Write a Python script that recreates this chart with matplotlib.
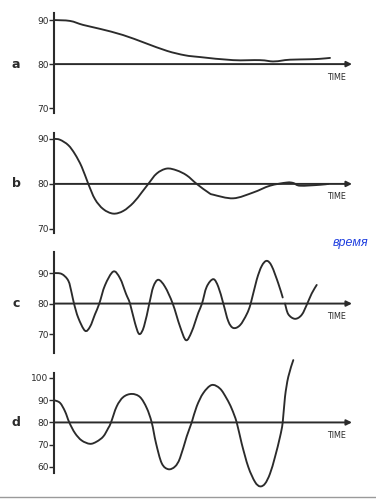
import numpy as np
import matplotlib
matplotlib.use("Agg")
import matplotlib.pyplot as plt
from matplotlib.lines import Line2D
from matplotlib.path import Path
from matplotlib.patches import PathPatch

# ---------------- data (time in arbitrary units, value in degrees) ----------------
panel_labels = ["a", "b", "c", "d"]
axis_label = "TIME"
note_text = "время"

t_a = [0, 16, 29, 46, 69, 91, 113, 131, 146, 179, 206, 219, 228, 236, 256, 266, 276]
v_a = [90, 89.8, 88.9, 88, 86.6, 84.8, 83, 82, 81.6, 80.9, 80.9, 80.6, 80.8, 81, 81.1, 81.2, 81.4]

t_b = [0, 6, 14.3, 21, 27.7, 34.3, 41, 49.3, 59.3, 69.3, 79.3, 87.7, 94.3, 102.7, 112.7,
       122.7, 132.7, 142.7, 154.3, 159.3, 179.3, 199.3, 216, 232.7, 239.3, 246, 266, 274.3]
v_b = [90, 89.8, 88.6, 86.6, 83.8, 80, 76.6, 74.4, 73.4, 74, 75.8, 78.1, 80, 82.3, 83.4,
       83, 81.9, 80, 78.1, 77.6, 76.8, 78.1, 79.6, 80.3, 80.2, 79.6, 79.8, 80]

t_c = [0, 7.7, 14.3, 17.7, 20, 24.3, 31, 36, 41, 45.3, 51, 59.3, 66, 72, 76, 81, 85.3, 90,
       95.3, 99.3, 104.3, 111, 118.7, 126, 132, 137.7, 144.3, 148, 152.7, 159.3, 164.3,
       169.3, 174.3, 179.3, 186, 192.7, 196.7, 202.7, 207.7, 212.7, 217.7, 224.3, 228.7,
       229.8, 231, 234.3, 241, 247.7, 253.3, 257.7, 262.7]
v_c = [90, 89.7, 87.5, 83.4, 80, 75.3, 71.1, 72.4, 76.5, 80, 86, 90.5, 88.3, 83.2, 80, 73.6,
       70, 72.5, 80, 85.5, 87.8, 85.5, 80, 72.5, 68, 70.8, 77, 80, 85.5, 88, 85.5,
       80, 74.2, 72, 72.9, 76.5, 80, 87.8, 92.3, 94, 92.3, 86.6, 82,
       np.nan, 80, 76.5, 75, 76.3, 80, 83.3, 86.1]

t_d = [0, 6, 11, 15.3, 21, 27.7, 36, 42.7, 49.3, 54.3, 57, 62.7, 69.3, 77.7, 86, 92.7,
       97.7, 102, 107.7, 114.3, 121, 126, 132.7, 137.7, 142.7, 149.3, 157.7, 166, 172.7,
       177.7, 182.7, 187.7, 194.3, 201, 206, 211, 216, 221, 226, 228.7, 231, 234.3, 239.3]
v_d = [90, 88.8, 85, 80, 75.2, 71.9, 70.4, 71.4, 73.7, 77.5, 80, 87.2, 91.4, 92.8, 91.4, 86.5,
       80, 70.7, 61.7, 59, 60.2, 64, 73.7, 80, 87.2, 93.2, 96.8, 95.2, 90.7,
       86.2, 80, 70.5, 60, 53.3, 51.3, 52.5, 57, 64.5, 73.5, 80, 91.5, 100.5, 108]

ticks_a = [70, 80, 90]
ticks_b = [70, 80, 90]
ticks_c = [70, 80, 90]
ticks_d = [60, 70, 80, 90, 100]

series = [(t_a, v_a, ticks_a), (t_b, v_b, ticks_b), (t_c, v_c, ticks_c), (t_d, v_d, ticks_d)]

# ---------------- layout (pixels) ----------------
W, H = 376, 500
ink = "#2b2b2b"
x_left, x_right = 54, 352
# (axis top px, axis bottom px, ylim top, ylim bottom)
boxes = [(13, 113, 91.6, 68.9),
         (133, 233, 91.3, 69.1),
         (252, 353, 96.9, 63.8),
         (373, 473, 102.2, 57.3)]
xmax = x_right - x_left


def smooth_path(xs, ys):
    """Cubic Bezier path through the given points (Catmull-Rom tangents),
    broken at NaN values."""
    xs = np.asarray(xs, float)
    ys = np.asarray(ys, float)
    verts, codes = [], []
    ok = ~np.isnan(ys)
    idx = np.where(ok)[0]
    runs = np.split(idx, np.where(np.diff(idx) != 1)[0] + 1)
    for r in runs:
        px, py = xs[r], ys[r]
        n = len(px)
        if n < 2:
            continue
        verts.append((px[0], py[0]))
        codes.append(Path.MOVETO)
        for i in range(n - 1):
            i0 = max(i - 1, 0)
            i3 = min(i + 2, n - 1)
            c1 = (px[i] + (px[i + 1] - px[i0]) / 6, py[i] + (py[i + 1] - py[i0]) / 6)
            c2 = (px[i + 1] - (px[i3] - px[i]) / 6, py[i + 1] - (py[i3] - py[i]) / 6)
            verts += [c1, c2, (px[i + 1], py[i + 1])]
            codes += [Path.CURVE4] * 3
    return Path(verts, codes)


fig = plt.figure(figsize=(W / 100, H / 100), dpi=100)
fig.patch.set_facecolor("white")

for (t, v, ticks), (top, bot, ytop, ybot), lab in zip(series, boxes, panel_labels):
    ax = fig.add_axes([x_left / W, 1 - bot / H, (x_right - x_left) / W, (bot - top) / H])
    ax.set_facecolor("none")
    ax.set_xlim(0, xmax)
    ax.set_ylim(ybot, ytop)
    for s in ["top", "right", "bottom"]:
        ax.spines[s].set_visible(False)
    ax.spines["left"].set_color(ink)
    ax.spines["left"].set_linewidth(1.5)
    ax.set_xticks([])
    ax.set_yticks(ticks)
    ax.set_yticklabels([str(k) for k in ticks], fontsize=6.5, color=ink,
                       family="DejaVu Sans")
    ax.tick_params(axis="y", length=3.5, width=1.0, color=ink, pad=0.5, direction="out")
    # time axis arrow at 80
    ax.annotate("", xy=(xmax, 80), xytext=(0, 80),
                arrowprops=dict(arrowstyle="-|>", lw=1.4, color=ink,
                                mutation_scale=8, shrinkA=0, shrinkB=0))
    ax.annotate(axis_label, xy=(xmax, 80), xytext=(-15, -13), textcoords="offset pixels",
                ha="center", va="center", fontsize=5.8, color=ink)
    patch = PathPatch(smooth_path(t, v), facecolor="none", edgecolor=ink, lw=1.35,
                      capstyle="round", joinstyle="round", clip_on=False)
    ax.add_patch(patch)
    # panel letter at level 80
    ax.annotate(lab, xy=(0, 80), xytext=(-38, 0), textcoords="offset pixels",
                ha="center", va="center", fontsize=9, fontweight="bold", color=ink)

fig.text(368 / W, 1 - 243 / H, note_text, ha="right", va="center", fontsize=9,
         style="italic", color="#1f3fe0", family="Liberation Sans")

fig.add_artist(Line2D([0, 1], [1 - 497 / H, 1 - 497 / H], transform=fig.transFigure,
                      color="#9a9a9a", lw=1.0))

fig.savefig("out.png", dpi=100, facecolor="white")
